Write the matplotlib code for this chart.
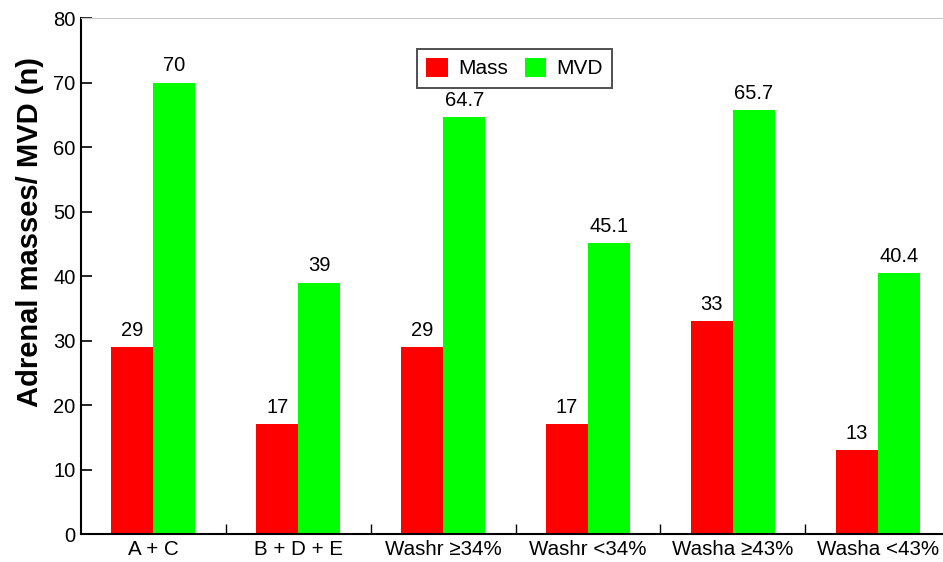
import matplotlib.pyplot as plt
import numpy as np

plt.rcParams['font.family'] = ['Liberation Sans', 'DejaVu Sans']

# data
categories = ['A + C', 'B + D + E', 'Washr \u226534%', 'Washr <34%', 'Washa \u226543%', 'Washa <43%']
mass = [29, 17, 29, 17, 33, 13]
mvd = [70, 39, 64.7, 45.1, 65.7, 40.4]
mass_labels = ['29', '17', '29', '17', '33', '13']
mvd_labels = ['70', '39', '64.7', '45.1', '65.7', '40.4']

fig = plt.figure(figsize=(9.43, 5.62), dpi=100)
ax = fig.add_axes([0.0859, 0.0498, 0.9141, 0.918])

x = np.arange(len(categories))
w = 0.29
b1 = ax.bar(x - w / 2, mass, w, color='#ff0000', label='Mass')
b2 = ax.bar(x + w / 2, mvd, w, color='#00ff00', label='MVD')

# value labels above bars
for bars, labs in ((b1, mass_labels), (b2, mvd_labels)):
    for rect, lab in zip(bars, labs):
        ax.text(rect.get_x() + rect.get_width() / 2, rect.get_height() + 1.1, lab,
                ha='center', va='bottom', fontsize=14.5)

ax.set_xlim(-0.5, 5.45)
ax.set_ylim(0, 80)
ax.set_yticks(np.arange(0, 81, 10))
ax.set_xticks(x)
ax.set_xticklabels(categories, fontsize=14.8)
ax.set_xticks(np.arange(0.5, 5.0, 1.0), minor=True)
ax.tick_params(axis='x', which='major', length=0, pad=4)
ax.tick_params(axis='x', which='minor', direction='in', length=7, width=1)
ax.tick_params(axis='y', direction='in', length=8, width=1.2, labelsize=14.5, pad=4)
ax.set_ylabel('Adrenal masses/ MVD (n)', fontsize=21, fontweight='bold')
ax.yaxis.set_label_coords(-0.043, 0.585)

ax.spines['right'].set_visible(False)
ax.spines['top'].set_color('#c8c8c8')
ax.spines['left'].set_linewidth(1.5)
ax.spines['bottom'].set_linewidth(1.5)

leg = ax.legend(loc='upper center', bbox_to_anchor=(0.503, 0.941), ncol=2, fontsize=15,
                frameon=True, fancybox=False, edgecolor='#222222', handlelength=1.05,
                handleheight=1.0, handletextpad=0.48, columnspacing=0.8,
                borderpad=0.45, borderaxespad=0)
leg.get_frame().set_linewidth(1.4)

fig.savefig('out.png', dpi=100)
